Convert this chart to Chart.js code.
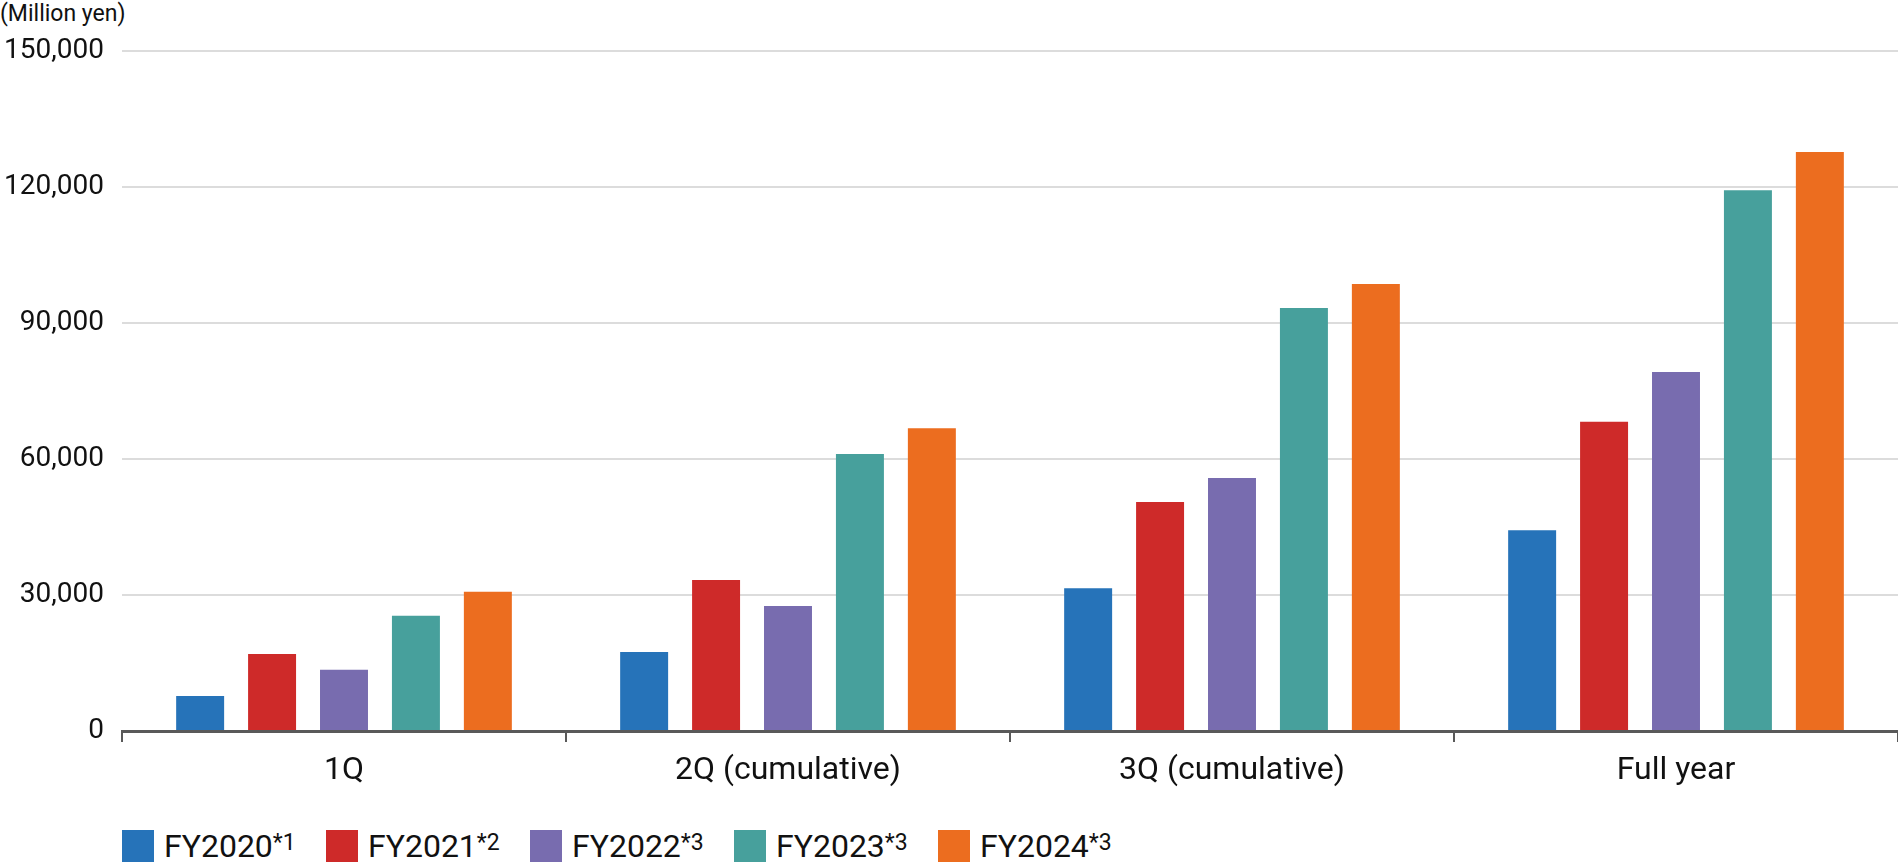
<!DOCTYPE html>
<html>
<head>
<meta charset="utf-8">
<script src="https://cdn.jsdelivr.net/npm/chart.js@4.4.1/dist/chart.umd.min.js"></script>
<style>
  body { margin: 0; background: #fff; font-family: Roboto, sans-serif; }
  #wrap { position: relative; width: 1898px; height: 862px; overflow: hidden; }
  #chartBox { position: absolute; left: 0; top: 0; width: 1898px; height: 800px; }
  #unit { position: absolute; left: 0; top: 0; font-size: 23px; color: #111; line-height: 27px; }
  #legend { position: absolute; left: 122px; top: 830px; height: 32px; display: flex; }
  .item { display: flex; align-items: center; width: 204px; height: 32px; }
  .box { width: 32px; height: 32px; margin-right: 10px; flex: none; }
  .lbl { font-size: 32px; color: #111; line-height: 32px; white-space: nowrap; }
  .lbl sup { font-size: 23px; vertical-align: 7px; line-height: 0; }
</style>
</head>
<body>
<div id="wrap">
  <div id="unit">(Million yen)</div>
  <div id="chartBox"><canvas id="salesChart"></canvas></div>
  <div id="legend"></div>
</div>
<script>
// categories and series (million yen)
const categories = ['1Q', '2Q (cumulative)', '3Q (cumulative)', 'Full year'];
const seriesNames = ['FY2020', 'FY2021', 'FY2022', 'FY2023', 'FY2024'];
const seriesNotes = ['*1', '*2', '*3', '*3', '*3'];
const seriesColors = ['#2673b9', '#ce2a29', '#786caf', '#47a09c', '#ec6d1f'];

const fy2020 = [7700, 17400, 31500, 44300];
const fy2021 = [17000, 33300, 50500, 68200];
const fy2022 = [13500, 27600, 55800, 79200];
const fy2023 = [25400, 61100, 93300, 119300];
const fy2024 = [30700, 66800, 98600, 127700];
const seriesValues = [fy2020, fy2021, fy2022, fy2023, fy2024];

const yTicks = [0, 30000, 60000, 90000, 120000, 150000];

const datasets = seriesNames.map((name, i) => ({
  label: name,
  data: seriesValues[i],
  backgroundColor: seriesColors[i],
  borderWidth: 0,
  barPercentage: 0.667,
  categoryPercentage: 0.81
}));

const salesChart = new Chart(document.getElementById('salesChart'), {
  type: 'bar',
  data: { labels: categories, datasets: datasets },
  options: {
    responsive: true,
    maintainAspectRatio: false,
    animation: false,
    layout: { padding: { top: 51, right: 0, left: 0, bottom: 0 } },
    plugins: { legend: { display: false }, tooltip: { enabled: false } },
    scales: {
      x: {
        afterFit: (axis) => { axis.height = 69; },
        grid: {
          drawOnChartArea: false,
          drawTicks: true,
          tickLength: 11,
          color: '#595959',
          lineWidth: 2
        },
        border: { display: true, color: '#595959', width: 3 },
        ticks: {
          color: '#111',
          padding: 10,
          font: { family: 'Roboto', size: 32 }
        }
      },
      y: {
        min: 0,
        max: 150000,
        afterFit: (axis) => { axis.width = 122; },
        afterBuildTicks: (axis) => { axis.ticks = yTicks.map(v => ({ value: v })); },
        grid: { color: '#dcdcdc', lineWidth: 2, drawTicks: false },
        border: { display: false },
        ticks: {
          color: '#111',
          padding: 18,
          font: { family: 'Roboto', size: 28 },
          callback: (v) => v.toLocaleString('en-US')
        }
      }
    }
  }
});

// html legend so the notes can be superscript
const legendEl = document.getElementById('legend');
seriesNames.forEach((name, i) => {
  const item = document.createElement('div');
  item.className = 'item';
  item.innerHTML = '<span class="box" style="background:' + seriesColors[i] + '"></span>' +
    '<span class="lbl">' + name + '<sup>' + seriesNotes[i] + '</sup></span>';
  legendEl.appendChild(item);
});
</script>
</body>
</html>
